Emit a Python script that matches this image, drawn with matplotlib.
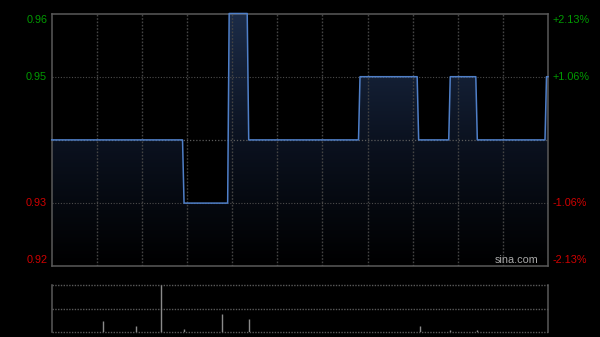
import numpy as np
import matplotlib
matplotlib.use("Agg")
import matplotlib.pyplot as plt
from matplotlib.colors import LinearSegmentedColormap

# ---- data ----
prev_close = 0.94
# piecewise-constant price levels: (first minute of segment, price)
seg_start = [0, 88, 118, 131, 205, 244, 265, 283, 329]
seg_price = [0.94, 0.93, 0.96, 0.94, 0.95, 0.94, 0.95, 0.94, 0.95]
total_minutes = 330

vol_minutes = [34, 56, 73, 88, 113, 131, 245, 265, 283]
vol_values = [234, 121, 1000, 57, 377, 277, 128, 43, 43]

left_ticks = [0.96, 0.95, 0.93, 0.92]
left_labels = ["0.96", "0.95", "0.93", "0.92"]
right_labels = ["+2.13%", "+1.06%", "-1.06%", "-2.13%"]
tick_colors = ["#009a00", "#009a00", "#d00000", "#d00000"]

# expand segments to per-minute series
minutes = np.arange(total_minutes + 1)
bounds = seg_start[1:] + [total_minutes + 1]
price = np.concatenate([np.full(b - s, p) for s, b, p in zip(seg_start, bounds, seg_price)])

W, H = 600, 337
fig = plt.figure(figsize=(6, 3.37), dpi=100, facecolor="black")
plt.rcParams['font.family'] = ['Liberation Sans', 'DejaVu Sans']

x0, x1 = 51.7, 548.0
ax = fig.add_axes([x0 / W, 1 - 266.3 / H, (x1 - x0) / W, (266.3 - 13.5) / H])
ax.set_facecolor("black")
ax.set_xlim(0, total_minutes)
ax.set_ylim(0.92, 0.96)

# gradient fill under line
cmap = LinearSegmentedColormap.from_list("g", ["#000000", "#0b1220", "#1c2c48"])
grad = np.linspace(0, 1, 256).reshape(-1, 1)
im = ax.imshow(grad, extent=[0, total_minutes, 0.92, 0.96], origin="lower",
               aspect="auto", cmap=cmap, zorder=1)
poly = ax.fill_between(minutes, price, 0.92, color="none", lw=0)
im.set_clip_path(poly.get_paths()[0], transform=ax.transData)

# grids
for m in range(30, total_minutes, 30):
    ax.axvline(m, color="#444444", lw=1.0, ls=(0, (1.2, 1.2)), zorder=2)
for yv in [0.95, 0.93]:
    ax.axhline(yv, color="#4c4c4c", lw=0.8, ls=(0, (1, 1.5)), zorder=2)
ax.axhline(prev_close, color="#5c5c5c", lw=0.9, ls=(0, (1, 1.5)), zorder=2)

ax.plot(minutes, price, color="#4f7fc8", lw=1.1, zorder=3, clip_on=False)

for s in ax.spines.values():
    s.set_color("#5a5a5a")
    s.set_linewidth(1.1)
ax.set_xticks([])
ax.set_yticks([])

vas = ["top", "center", "center", "bottom"]
for yv, lab, rlab, c, va in zip(left_ticks, left_labels, right_labels, tick_colors, vas):
    yy = yv
    if va == "top":
        yy = 0.96 - 0.0002
    if va == "bottom":
        yy = 0.92 + 0.0002
    ax.text(-4.5 / 1.504, yy, lab, color=c, fontsize=7.8, ha="right", va=va,
            transform=ax.transData, clip_on=False)
    ax.text(total_minutes + 5 / 1.504, yy, rlab, color=c, fontsize=7.8, ha="left", va=va,
            transform=ax.transData, clip_on=False)

ax.text(0.98, 0.005, "sina.com", color="#a8a8a8", fontsize=7.8, ha="right", va="bottom",
        transform=ax.transAxes, zorder=5)

# volume panel
vax = fig.add_axes([x0 / W, 1 - 332.0 / H, (x1 - x0) / W, (332.0 - 285.3) / H])
vax.set_facecolor("black")
vax.set_xlim(0, total_minutes)
vax.set_ylim(0, 1000)
for yv in [0, 500, 1000]:
    vax.axhline(yv, color="#5a5a5a", lw=1.0, ls=(0, (1, 1)), zorder=1, clip_on=False)
vax.vlines(vol_minutes, 0, vol_values, color="#8a8a8a", lw=1.0, zorder=2)
for k in ["top", "bottom"]:
    vax.spines[k].set_visible(False)
for k in ["left", "right"]:
    vax.spines[k].set_color("#5a5a5a")
    vax.spines[k].set_linewidth(1.1)
vax.set_xticks([])
vax.set_yticks([])

fig.savefig("out.png", dpi=100, facecolor="black")
